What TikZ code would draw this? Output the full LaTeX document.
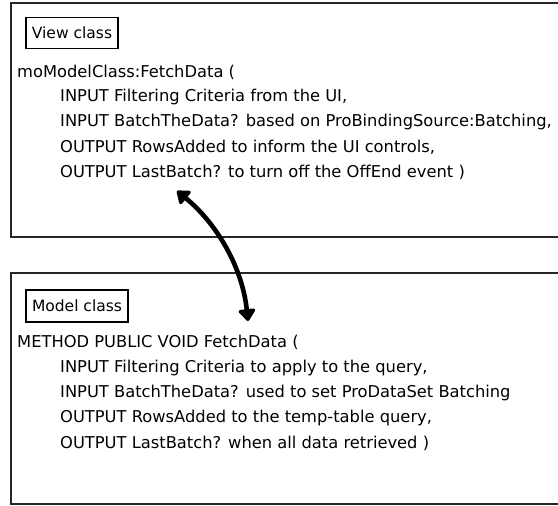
\documentclass[tikz,border=0pt]{standalone}
\usepackage{fontspec}
\setmainfont{DejaVu Sans}
\usetikzlibrary{arrows.meta}
\begin{document}
\begin{tikzpicture}[x=1pt,y=-1pt,
  panel/.style={draw=black!85,line width=1.6pt},
  tagbox/.style={draw=black,line width=1.4pt,inner xsep=4pt,inner ysep=5pt,font=\fontsize{15.5}{17}\selectfont},
  codeline/.style={anchor=west,inner sep=0pt,font=\fontsize{16.3}{18}\selectfont},
  link/.style={line width=4.6pt,line cap=round,{Triangle[length=13pt,width=19pt,round]}-{Triangle[length=13pt,width=19pt,round]}}]
\useasboundingbox (0,0) rectangle (558,506);
\clip (0,0) rectangle (558,506);
% top panel
\draw[panel] (11,3) rectangle (575,237);
\node[tagbox,minimum width=92pt,minimum height=31pt] (vc) at (72,33) {View class};
\node[codeline] (v0) at (17,72) {moModelClass:FetchData (};
\node[codeline] (v1) at (60,97) {INPUT Filtering Criteria from the UI,};
\node[codeline] (v2) at (60,122) {INPUT BatchTheData? based on ProBindingSource:Batching,};
\node[codeline] (v3) at (60,147) {OUTPUT RowsAdded to inform the UI controls,};
\node[codeline] (v4) at (60,172) {OUTPUT LastBatch? to turn off the OffEnd event )};
% bottom panel
\draw[panel] (11,273) rectangle (575,504);
\node[tagbox,minimum width=102pt,minimum height=32pt] (mc) at (77,306) {Model class};
\node[codeline] (m0) at (17,342) {METHOD PUBLIC VOID FetchData (};
\node[codeline] (m1) at (60,368) {INPUT Filtering Criteria to apply to the query,};
\node[codeline] (m2) at (60,393) {INPUT BatchTheData? used to set ProDataSet Batching};
\node[codeline] (m3) at (60,418) {OUTPUT RowsAdded to the temp-table query,};
\node[codeline] (m4) at (60,443) {OUTPUT LastBatch? when all data retrieved )};
% connector
\coordinate (a) at (177,191);
\coordinate (b) at (248,321);
\draw[link] (a) .. controls (215,222) and (242,265) .. (b);
\end{tikzpicture}
\end{document}
